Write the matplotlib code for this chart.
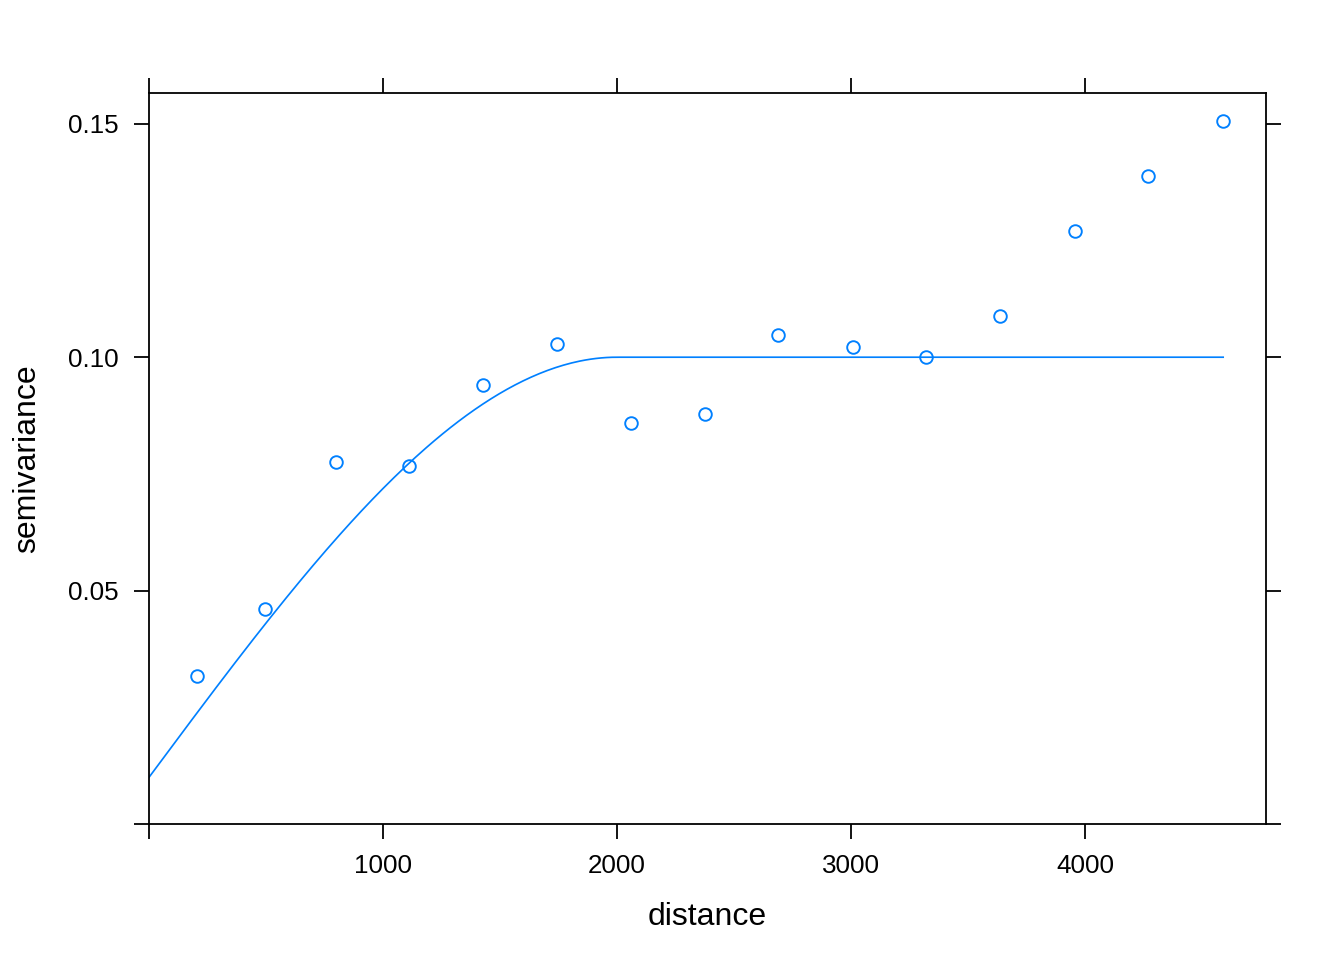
import numpy as np
import matplotlib.pyplot as plt

plt.rcParams['font.family'] = ['Liberation Sans', 'DejaVu Sans']

# empirical variogram
dist = [205, 496, 799, 1111, 1427, 1744, 2060, 2376, 2688, 3009, 3321, 3637, 3957, 4269, 4590]
gamma = [0.0316, 0.0461, 0.0776, 0.0768, 0.0941, 0.1029, 0.0858, 0.0879, 0.1047, 0.1022,
         0.1001, 0.1089, 0.1271, 0.1389, 0.1507]

# fitted spherical model
nugget = 0.01
psill = 0.09
vrange = 2000.0
xmax_model = 4590

xticks = [0, 1000, 2000, 3000, 4000]
xticklabels = ['', '1000', '2000', '3000', '4000']
yticks = [0.0, 0.05, 0.10, 0.15]
yticklabels = ['', '0.05', '0.10', '0.15']

col = '#0080ff'

h = np.linspace(0, xmax_model, 400)
hr = np.minimum(h / vrange, 1.0)
model = nugget + psill * (1.5 * hr - 0.5 * hr ** 3)

fig = plt.figure(figsize=(1344 / 144, 960 / 144), dpi=144)
ax = fig.add_axes([149 / 1344, 1 - 824 / 960, (1266 - 149) / 1344, (824 - 93) / 960])

ax.plot(h, model, color=col, lw=0.85)
ax.plot(dist, gamma, 'o', mfc='none', mec=col, ms=6.3, mew=0.95)

ax.set_xlim(0, 4773)
ax.set_ylim(0.0001, 0.1566)

ax.set_xticks(xticks)
ax.set_xticklabels(xticklabels)
ax.set_yticks(yticks)
ax.set_yticklabels(yticklabels)
ax.tick_params(direction='out', length=7.5, width=0.9, labelsize=13, pad=7.5,
               top=True, right=True, labeltop=False, labelright=False)
for s in ax.spines.values():
    s.set_linewidth(0.9)

ax.set_xlabel('distance', fontsize=16, labelpad=12)
ax.set_ylabel('semivariance', fontsize=16, labelpad=13)

fig.savefig('out.png', dpi=144)
